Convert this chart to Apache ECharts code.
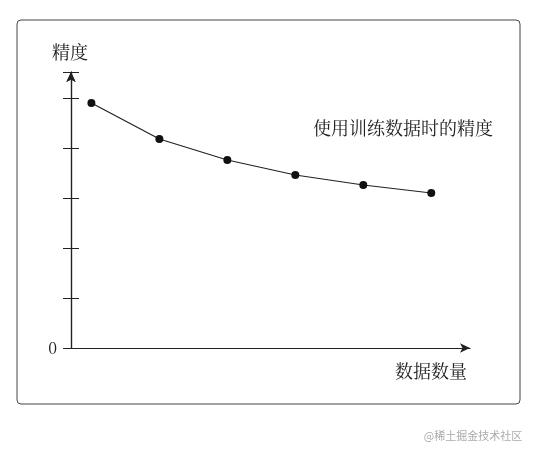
<!DOCTYPE html><html><head><meta charset="utf-8"><script src="https://cdn.jsdelivr.net/npm/echarts@6/dist/echarts.min.js"></script></head><body style="margin:0"><div id="c" style="width:535px;height:454px"></div><script>
const xs=[1,2,3,4,5,6];
const accuracy=[4.9,4.18,3.76,3.46,3.26,3.1];
const yLabels={0:'0'};
const ch=echarts.init(document.getElementById('c'));
const F='"Noto Serif CJK SC","Noto Sans CJK SC",serif';
const yBase={type:'value',min:0,max:5.52,interval:1,position:'left',splitLine:{show:false},axisLine:{show:true,lineStyle:{color:'#222',width:1.2},symbol:['none','arrow'],symbolSize:[7,10]}};
ch.setOption({animation:false,
grid:{left:71,right:65,top:72,bottom:106},
xAxis:{type:'value',min:0.7,max:6.57,axisLine:{lineStyle:{color:'#222',width:1.2},symbol:['none','arrow'],symbolSize:[7,10]},axisTick:{show:false},axisLabel:{show:false},splitLine:{show:false}},
yAxis:[Object.assign({},yBase,{axisTick:{show:true,inside:false,length:8,lineStyle:{color:'#222'}},axisLabel:{formatter:v=>yLabels[v]||'',color:'#222',fontSize:16,fontFamily:F,margin:14}}),
Object.assign({},yBase,{axisTick:{show:true,inside:true,length:8,lineStyle:{color:'#222'}},axisLabel:{show:false}})],
graphic:[{type:'rect',shape:{x:17,y:20,width:503,height:384,r:4},style:{fill:'none',stroke:'#444',lineWidth:1}},
{type:'text',x:70,y:52,style:{text:'精度',font:'18px '+F,fill:'#222',align:'center',verticalAlign:'middle'}},
{type:'text',x:403,y:128,style:{text:'使用训练数据时的精度',font:'18px '+F,fill:'#222',align:'center',verticalAlign:'middle'}},
{type:'text',x:431,y:371,style:{text:'数据数量',font:'18px '+F,fill:'#222',align:'center',verticalAlign:'middle'}},
{type:'text',x:473,y:436,style:{text:'@稀土掘金技术社区',font:'11px "Noto Sans CJK SC"',fill:'#aaa',align:'center',verticalAlign:'middle'}}],
series:[{type:'line',data:xs.map((x,i)=>[x,accuracy[i]]),symbol:'circle',symbolSize:8,itemStyle:{color:'#111'},lineStyle:{color:'#222',width:1.2}}]});
</script></body></html>
